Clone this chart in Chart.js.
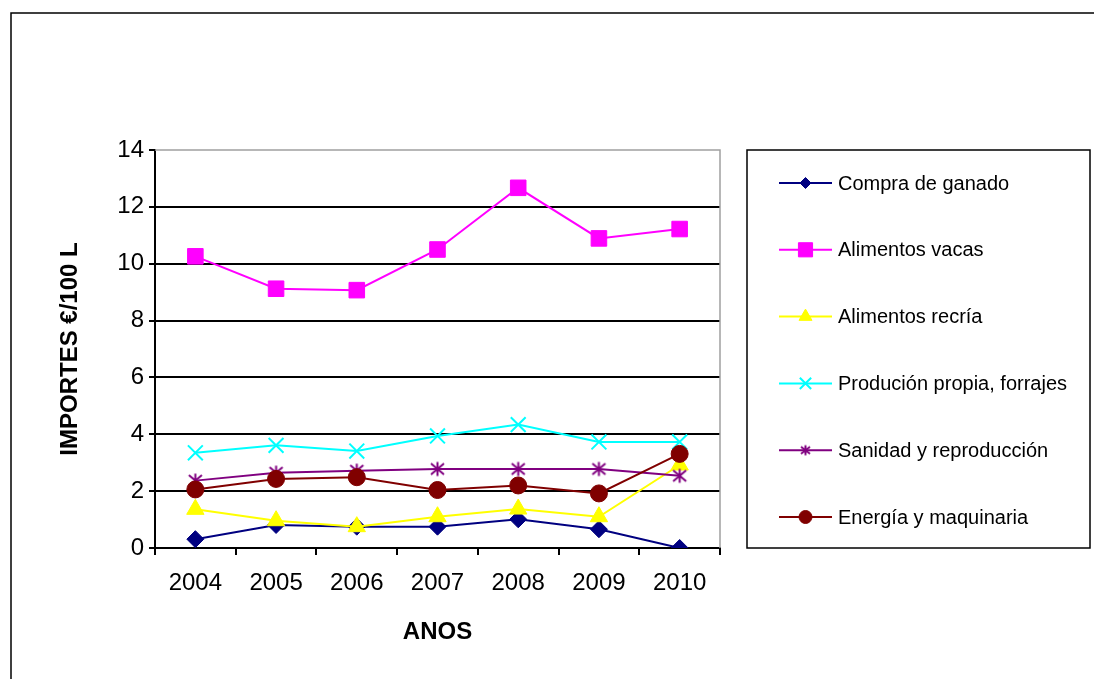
<!DOCTYPE html>
<html>
<head>
<meta charset="utf-8">
<script src="https://cdn.jsdelivr.net/npm/chart.js@4/dist/chart.umd.min.js"></script>
<style>
  html, body { margin: 0; padding: 0; background: #fff; }
  canvas { display: block; }
</style>
</head>
<body>
<canvas id="c" width="1094" height="679"></canvas>
<script>
// ---- data ----
const years = ['2004', '2005', '2006', '2007', '2008', '2009', '2010'];
const seriesNames = ['Compra de ganado', 'Alimentos vacas', 'Alimentos recría',
  'Produción propia, forrajes', 'Sanidad y reproducción', 'Energía y maquinaria'];
const compraGanado   = [0.31, 0.81, 0.75, 0.75, 1.01, 0.66, 0.0];
const alimentosVacas = [10.26, 9.12, 9.07, 10.5, 12.67, 10.89, 11.22];
const alimentosRecria= [1.36, 0.96, 0.75, 1.1, 1.37, 1.1, 2.92];
const produccionPropia=[3.35, 3.61, 3.41, 3.94, 4.34, 3.73, 3.73];
const sanidad        = [2.37, 2.65, 2.72, 2.78, 2.78, 2.78, 2.54];
const energia        = [2.06, 2.43, 2.49, 2.04, 2.2, 1.92, 3.31];
const yTicks = [0, 2, 4, 6, 8, 10, 12, 14];

const colors = ['#000080', '#FF00FF', '#FFFF00', '#00FFFF', '#800080', '#800000'];

function makeStar(size, color) {
  const c = document.createElement('canvas');
  c.width = size; c.height = size;
  const g = c.getContext('2d');
  g.strokeStyle = color; g.lineWidth = 2;
  const m = size / 2, e = 1.5;
  g.beginPath();
  g.moveTo(m, e); g.lineTo(m, size - e);
  g.moveTo(e + 0.5, e + 1.5); g.lineTo(size - e - 0.5, size - e - 1.5);
  g.moveTo(e + 0.5, size - e - 1.5); g.lineTo(size - e - 0.5, e + 1.5);
  g.stroke();
  return c;
}
const starBig = makeStar(17, colors[4]);
const starSmall = makeStar(13, colors[4]);

const styles = [
  { ps: 'rectRot', r: 8.5, lr: 5.5 },
  { ps: 'rect', r: 11, lr: 10 },
  { ps: 'triangle', r: 10, lr: 7.5 },
  { ps: 'crossRot', r: 10.5, lr: 8 },
  { ps: starBig, r: 8, lr: 6, legendPs: starSmall },
  { ps: 'circle', r: 8.5, lr: 6.5 }
];
const values = [compraGanado, alimentosVacas, alimentosRecria, produccionPropia, sanidad, energia];

const datasets = values.map((v, i) => ({
  label: seriesNames[i],
  data: v,
  borderColor: colors[i],
  backgroundColor: colors[i],
  borderWidth: 2,
  pointStyle: styles[i].ps,
  pointRadius: styles[i].r,
  pointHoverRadius: styles[i].r,
  pointBackgroundColor: colors[i],
  pointBorderColor: colors[i],
  pointBorderWidth: (i === 3) ? 2 : 1,
  tension: 0,
  order: 6 - i
}));

const frameAndLegend = {
  id: 'frameAndLegend',
  beforeDraw(chart) {
    const ctx = chart.ctx;
    ctx.save();
    ctx.fillStyle = '#fff';
    ctx.fillRect(0, 0, chart.width, chart.height);
    ctx.strokeStyle = '#000';
    ctx.lineWidth = 1.5;
    ctx.beginPath();
    ctx.moveTo(11, 679);
    ctx.lineTo(11, 13);
    ctx.lineTo(1094, 13);
    ctx.stroke();
    ctx.restore();
  },
  beforeDatasetsDraw(chart) {
    const ctx = chart.ctx, a = chart.chartArea;
    ctx.save();
    ctx.strokeStyle = '#a0a0a0';
    ctx.lineWidth = 1.5;
    ctx.beginPath();
    ctx.moveTo(a.left, a.top);
    ctx.lineTo(a.right, a.top);
    ctx.lineTo(a.right, a.bottom);
    ctx.stroke();
    ctx.restore();
  },
  afterDraw(chart) {
    const ctx = chart.ctx;
    ctx.save();
    ctx.strokeStyle = '#000';
    ctx.lineWidth = 1.5;
    ctx.strokeRect(747, 150, 343, 398);
    ctx.font = '20px "Liberation Sans", Arial, sans-serif';
    ctx.textBaseline = 'middle';
    ctx.textAlign = 'left';
    chart.data.datasets.forEach((ds, i) => {
      const y = 183 + i * 66.8;
      ctx.strokeStyle = ds.borderColor;
      ctx.lineWidth = 2;
      ctx.beginPath();
      ctx.moveTo(779, y);
      ctx.lineTo(832, y);
      ctx.stroke();
      ctx.fillStyle = ds.borderColor;
      ctx.strokeStyle = ds.borderColor;
      ctx.lineWidth = (i === 3) ? 2 : 1;
      Chart.helpers.drawPoint(ctx, {
        pointStyle: styles[i].legendPs || styles[i].ps,
        radius: styles[i].lr,
        rotation: 0,
        borderWidth: ctx.lineWidth
      }, 805.5, y);
      ctx.fillStyle = '#000';
      ctx.fillText(ds.label, 838, y + 1);
    });
    ctx.restore();
  }
};

new Chart(document.getElementById('c'), {
  type: 'line',
  data: { labels: years, datasets },
  options: {
    responsive: false,
    animation: false,
    devicePixelRatio: 1,
    layout: { padding: { top: 150, right: 374, left: 0, bottom: 0 } },
    plugins: { legend: { display: false }, tooltip: { enabled: false } },
    scales: {
      x: {
        offset: true,
        afterFit(s) { s.height = 131; },
        grid: {
          display: true, drawOnChartArea: false, drawTicks: true,
          tickLength: 7, offset: true, color: '#000', lineWidth: 2
        },
        border: { display: true, color: '#000', width: 2 },
        ticks: {
          color: '#000', padding: 14,
          font: { family: '"Liberation Sans", Arial, sans-serif', size: 24 },
          maxRotation: 0
        },
        title: {
          display: true, text: 'ANOS', color: '#000',
          font: { family: '"Liberation Sans", Arial, sans-serif', size: 24, weight: 'bold' },
          padding: { top: 0, bottom: 32 }
        }
      },
      y: {
        min: yTicks[0], max: yTicks[yTicks.length - 1],
        afterFit(s) { s.width = 155; },
        afterBuildTicks(s) { s.ticks = yTicks.map(v => ({ value: v })); },
        grid: {
          color: (c) => (c.tick && c.tick.value === 14) ? 'rgba(0,0,0,0)' : '#000',
          tickColor: '#000',
          lineWidth: 2, tickLength: 6, drawTicks: true
        },
        border: { display: true, color: '#000', width: 2 },
        ticks: {
          color: '#000', padding: 5,
          font: { family: '"Liberation Sans", Arial, sans-serif', size: 24 }
        },
        title: {
          display: true, text: 'IMPORTES €/100 L', color: '#000',
          font: { family: '"Liberation Sans", Arial, sans-serif', size: 24, weight: 'bold' },
          padding: { top: 56, bottom: 0 }
        }
      }
    }
  },
  plugins: [frameAndLegend]
});
</script>
</body>
</html>
